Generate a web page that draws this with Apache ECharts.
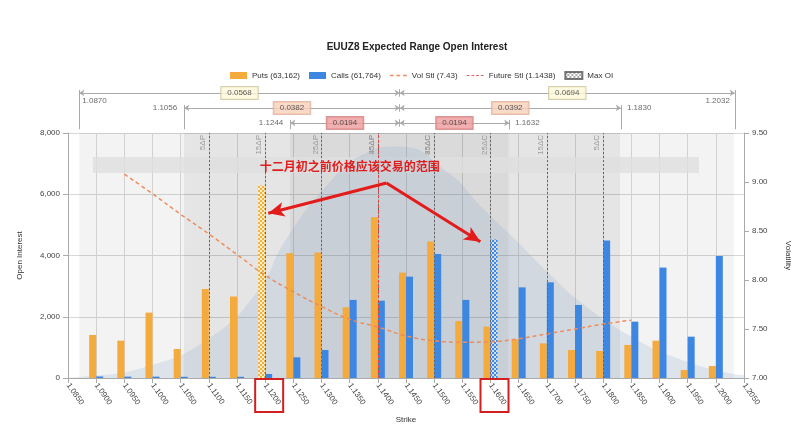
<!DOCTYPE html>
<html><head><meta charset="utf-8">
<script src="https://cdn.jsdelivr.net/npm/echarts@6/dist/echarts.min.js"></script>
<style>html,body{margin:0;padding:0;background:#fff}#c{width:800px;height:433px}</style>
</head><body><div id="c"></div>
<script>
// ---------- data ----------
const strikes = ['1.0850','1.0900','1.0950','1.1000','1.1050','1.1100','1.1150','1.1200','1.1250','1.1300','1.1350','1.1400','1.1450','1.1500','1.1550','1.1600','1.1650','1.1700','1.1750','1.1800','1.1850','1.1900','1.1950','1.2000','1.2050'];
const puts  = [null,1405,1220,2135,948,2905,2660,6285,4075,4095,2310,5250,3440,4455,1860,1680,1260,1130,915,880,1080,1220,260,390,null];
const calls = [null,50,45,45,40,40,40,130,675,915,2550,2525,3310,4050,2550,4520,2960,3125,2385,4490,1840,3605,1350,3985,null];
const volSmile = [null,null,9.08,8.88,8.67,8.47,8.26,8.05,7.88,7.73,7.60,7.52,7.43,7.38,7.365,7.37,7.40,7.45,7.50,7.55,7.59,null,null,null,null];
const bellStrike = [1.0850,1.0868,1.0987,1.1104,1.1188,1.1236,1.1318,1.1371,1.1438,1.1526,1.1584,1.1645,1.1703,1.1762,1.1851,1.1940,1.2023,1.2050];
const bellValue  = [10,30,360,1340,2870,4500,6470,7280,7560,6690,5580,4500,3430,2450,1340,590,160,90];
const futureSettle = 1.1438;
const rangeLo = [1.0870,1.1056,1.1244];
const rangeHi = [1.2032,1.1830,1.1632];
const rangeLeftText  = ['0.0568','0.0382','0.0194'];
const rangeRightText = ['0.0694','0.0392','0.0194'];
const rangeLoText = ['1.0870','1.1056','1.1244'];
const rangeHiText = ['1.2032','1.1830','1.1632'];
const deltaStrikes = [1.1086,1.1236,1.1312,1.1374,1.1424,1.1472,1.1522,1.1579,1.1652,1.1778];
const deltaLabels  = ['5ΔP','15ΔP','25ΔP','35ΔP','45ΔP','45ΔC','35ΔC','25ΔC','15ΔC','5ΔC'];
const legendNames = ['Puts (63,162)','Calls (61,764)','Vol Stl (7.43)','Future Stl (1.1438)','Max OI'];
const noteText = '十二月初之前价格应该交易的范围';
const notePos = [1.1350, 6922];
const noteBand = [[1.0894, 7216],[1.1970, 6694]];
const arrowStart = [1.14153, 6367];
const arrowEnds = [[1.12056, 5378],[1.15819, 4451]];
const boxedStrikes = ['1.1200','1.1600'];

// ---------- styles ----------
const putsColor = '#f4aa3c', callsColor = '#3d87e2', volColor = '#ef8c5c', futColor = '#d9383a';
function makePattern(c1, c2){
  const cv = document.createElement('canvas'); cv.width = 4; cv.height = 4;
  const g = cv.getContext('2d');
  g.fillStyle = c2; g.fillRect(0,0,4,4);
  g.fillStyle = c1; g.fillRect(0,0,2,2); g.fillRect(2,2,2,2);
  return {image: cv, repeat: 'repeat'};
}
const putPattern = makePattern('#f0b040','#fdeec4');
const callPattern = makePattern('#3d87e2','#cfe0f7');
const greyPattern = makePattern('#999999','#ffffff');

const maxPutIdx = puts.indexOf(Math.max(...puts.filter(v=>v!=null)));
const maxCallIdx = calls.indexOf(Math.max(...calls.filter(v=>v!=null)));
const putsData = puts.map((v,i)=> i===maxPutIdx ? {value:v, itemStyle:{color:putPattern}} : v);
const callsData = calls.map((v,i)=> i===maxCallIdx ? {value:v, itemStyle:{color:callPattern}} : v);

const rowY = [2.67, 1.67, 0.67];
const boxFill = ['#fdf9da','#f8cfba','#ee9b9b'];
const boxBorder = ['#c9c39a','#dcab95','#cf7d7d'];

// top range lines, boxes and end labels
const topLines = [];
const topBoxes = [];
const topLabels = [];
const lblStyle = {fontSize:8, color:'#444'};
const endLabelPos = [
  [{position:'right', distance:3, offset:[0,8]}, {position:'left', distance:5, offset:[0,8]}],
  [{position:'left', distance:7}, {position:'right', distance:6}],
  [{position:'left', distance:7}, {position:'right', distance:6}]
];
rangeLo.forEach((lo,r)=>{
  const y = rowY[r], hi = rangeHi[r];
  topLines.push([{coord:[lo,y]},{coord:[futureSettle,y]}]);
  topLines.push([{coord:[futureSettle,y]},{coord:[hi,y]}]);
  topLines.push([{coord:[lo,y+0.2], symbol:'none'},{coord:[lo,0.25], symbol:'none'}]);
  topLines.push([{coord:[hi,y+0.2], symbol:'none'},{coord:[hi,0.25], symbol:'none'}]);
  topLines.push([{coord:[futureSettle,y+0.25], symbol:'none'},{coord:[futureSettle,y-0.25], symbol:'none'}]);
  const box = (t)=>({show:true, position:'inside', formatter:t, fontSize:8, color:'#333',
    backgroundColor:boxFill[r], borderColor:boxBorder[r], borderWidth:1, padding:[2,6]});
  topBoxes.push({value:[(lo+futureSettle)/2, y], label:box(rangeLeftText[r])});
  topBoxes.push({value:[(hi+futureSettle)/2, y], label:box(rangeRightText[r])});
  topLabels.push({value:[lo,y], label:Object.assign({show:true, formatter:rangeLoText[r]}, lblStyle, endLabelPos[r][0])});
  topLabels.push({value:[hi,y], label:Object.assign({show:true, formatter:rangeHiText[r]}, lblStyle, endLabelPos[r][1])});
});

const chart = echarts.init(document.getElementById('c'));
const option = {
  animation:false,
  textStyle:{fontFamily:'Liberation Sans'},
  title:{text:'EUUZ8 Expected Range Open Interest', left:412, textAlign:'center', top:37,
    textStyle:{fontSize:10, fontWeight:'bold', color:'#222'}},
  legend:{left:225, top:66, itemWidth:17, itemHeight:7, itemGap:9,
    textStyle:{fontSize:8, color:'#333'},
    data:[{name:legendNames[0], icon:'rect'},{name:legendNames[1], icon:'rect'},
          {name:legendNames[2], icon:'path://M0,0h4v1.5h-4z M7,0h4v1.5h-4z M14,0h4v1.5h-4z',
           itemStyle:{color:volColor}, lineStyle:{width:0}},
          {name:legendNames[3], icon:'path://M0,0h3v1.3h-3z M5,0h3v1.3h-3z M10,0h3v1.3h-3z M15,0h3v1.3h-3z'},
          {name:legendNames[4], icon:'rect'}]},
  grid:[{left:68, right:55, top:133, bottom:55},{left:68, right:55, top:82, height:51}],
  xAxis:[
    {type:'category', data:strikes, boundaryGap:false, gridIndex:0,
     axisLine:{lineStyle:{color:'#aaa'}}, axisTick:{show:true, lineStyle:{color:'#aaa'}},
     axisLabel:{interval:0, rotate:-55, fontSize:8, color:'#444', margin:6},
     splitLine:{show:true, lineStyle:{color:'#dcdcdc'}},
     name:'Strike', nameLocation:'middle', nameGap:38, nameTextStyle:{fontSize:8, color:'#333'}},
    {type:'value', min:1.085, max:1.205, gridIndex:0, show:false},
    {type:'value', min:1.085, max:1.205, gridIndex:1, show:false}
  ],
  yAxis:[
    {type:'value', min:0, max:8000, interval:2000, gridIndex:0,
     axisLine:{show:true, lineStyle:{color:'#aaa'}}, axisTick:{show:true, lineStyle:{color:'#aaa'}},
     axisLabel:{fontSize:8, color:'#444', formatter:v=>v.toLocaleString('en-US')},
     splitLine:{lineStyle:{color:'#d8d8d8'}},
     name:'Open Interest', nameLocation:'middle', nameGap:44, nameTextStyle:{fontSize:8, color:'#333'}},
    {type:'value', min:7, max:9.5, interval:0.5, gridIndex:0, position:'right',
     axisLine:{show:true, lineStyle:{color:'#aaa'}}, axisTick:{show:true, lineStyle:{color:'#aaa'}},
     axisLabel:{fontSize:8, color:'#444', formatter:v=>v.toFixed(2)},
     splitLine:{show:false},
     name:'Volatility', nameLocation:'middle', nameRotate:-90, nameGap:40, nameTextStyle:{fontSize:8, color:'#333'}},
    {type:'value', min:0, max:3.4, gridIndex:1, show:false}
  ],
  series:[
    {name:'bands', type:'line', xAxisIndex:1, yAxisIndex:0, data:[], silent:true, z:0,
     markArea:{silent:true, data:[
       [{xAxis:rangeLo[0], itemStyle:{color:'rgba(0,0,0,0.047)'}},{xAxis:rangeHi[0]}],
       [{xAxis:rangeLo[1], itemStyle:{color:'rgba(0,0,0,0.058)'}},{xAxis:rangeHi[1]}],
       [{xAxis:rangeLo[2], itemStyle:{color:'rgba(0,0,0,0.052)'}},{xAxis:rangeHi[2]}]
     ]}},
    {name:'bell', type:'line', xAxisIndex:1, yAxisIndex:0, smooth:true, symbol:'none', silent:true, z:1,
     data:bellStrike.map((s,i)=>[s,bellValue[i]]),
     lineStyle:{width:0}, areaStyle:{color:'rgba(135,165,200,0.30)'}},
    {name:'deltas', type:'line', xAxisIndex:1, yAxisIndex:0, data:[], silent:true, z:1,
     markLine:{silent:true, symbol:'none', animation:false,
       lineStyle:{color:'#666', type:[2,2], width:1},
       label:{show:true, position:'insideEndTop', fontSize:8, color:'#999', distance:2},
       data:deltaStrikes.map((s,i)=>({xAxis:s, label:{formatter:deltaLabels[i]}}))}},
    {name:'note', type:'line', xAxisIndex:1, yAxisIndex:0, data:[], silent:true, z:2,
     markArea:{silent:true, itemStyle:{color:'rgba(222,222,222,0.8)'},
       data:[[{coord:noteBand[0]},{coord:noteBand[1]}]]}},
    {name:legendNames[0], type:'bar', xAxisIndex:0, yAxisIndex:0, data:putsData, barWidth:7, barGap:'0%',
     itemStyle:{color:putsColor}, z:3},
    {name:legendNames[1], type:'bar', xAxisIndex:0, yAxisIndex:0, data:callsData, barWidth:7, barGap:'0%',
     itemStyle:{color:callsColor}, z:3},
    {name:legendNames[2], type:'line', xAxisIndex:0, yAxisIndex:1, data:volSmile, smooth:true, symbol:'none',
     lineStyle:{color:volColor, width:1.5, type:[4,3]}, itemStyle:{color:volColor}, z:4},
    {name:legendNames[3], type:'scatter', xAxisIndex:1, yAxisIndex:0, data:[],
     itemStyle:{color:futColor}, z:4,
     markLine:{silent:true, symbol:'none', label:{show:false},
       lineStyle:{color:'#e04444', width:1, type:[3,2]}, data:[{xAxis:futureSettle}]}},
    {name:legendNames[4], type:'scatter', xAxisIndex:1, yAxisIndex:0, data:[],
     itemStyle:{color:greyPattern, borderColor:'#555', borderWidth:1}},
    {name:'annot', type:'line', xAxisIndex:1, yAxisIndex:0, data:[], silent:true, z:10,
     markPoint:{silent:true, symbol:'circle', symbolSize:0,
       label:{show:true, position:'inside', formatter:noteText, fontSize:12, fontWeight:'bold',
         color:'#e01e1e', fontFamily:'Noto Sans CJK SC'},
       data:[{coord:notePos}]},
     markLine:{silent:true, symbol:['none','arrow'], symbolSize:[11,16], label:{show:false},
       lineStyle:{color:'#e31b1b', width:3, type:'solid'},
       data:arrowEnds.map(e=>[{coord:arrowStart},{coord:e}])}},
    {name:'ranges', type:'line', xAxisIndex:2, yAxisIndex:2, data:[], silent:true,
     markLine:{silent:true, symbol:['arrow','arrow'], symbolSize:5, label:{show:false},
       lineStyle:{color:'#aaa', width:1, type:'solid'}, data:topLines}},
    {name:'rangeBoxes', type:'scatter', xAxisIndex:2, yAxisIndex:2, symbolSize:0, silent:true, z:5, data:topBoxes},
    {name:'rangeLabels', type:'scatter', xAxisIndex:2, yAxisIndex:2, symbolSize:0, silent:true, data:topLabels}
  ]
};
chart.setOption(option);

// red boxes around selected strike labels (positions from the axis scale)
const g = boxedStrikes.map(s=>{
  const p = chart.convertToPixel({xAxisIndex:0, yAxisIndex:0}, [s, 0]);
  return {type:'rect', shape:{x:p[0]-10, y:p[1]+1, width:28, height:33},
    style:{fill:'none', stroke:'#d21f1f', lineWidth:2}, z:100};
});
chart.setOption({graphic:g});
</script></body></html>
